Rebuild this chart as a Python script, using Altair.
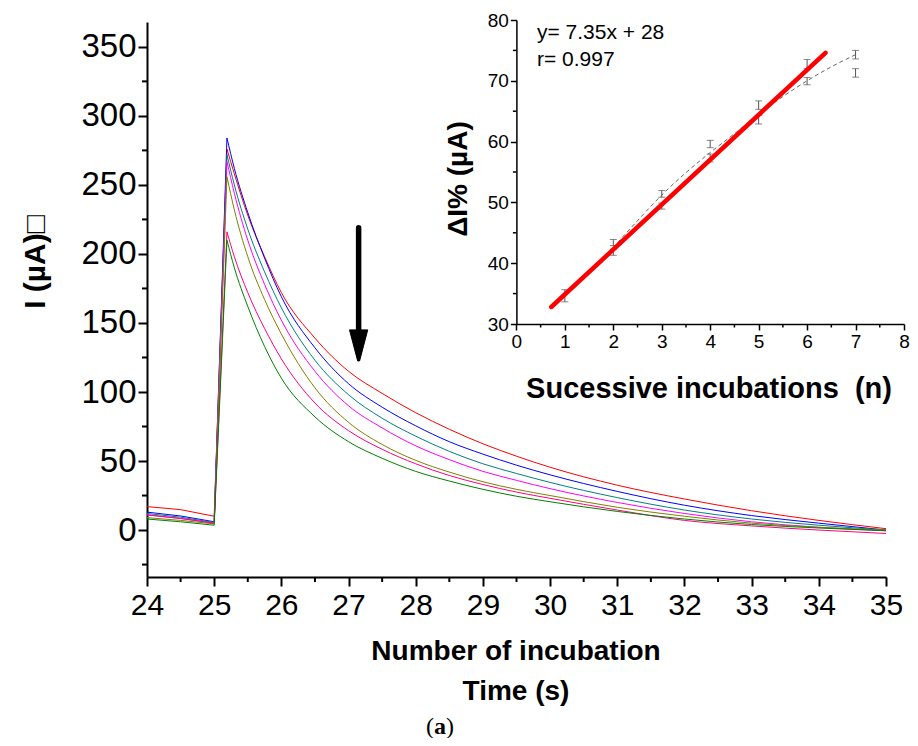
import altair as alt
import pandas as pd

# ---------------- main chart data ----------------
t_vals = [24, 24.5, 25, 25.19, 25.3, 25.5, 25.75, 26, 26.5, 27, 27.5, 28, 28.5, 29, 29.5, 30, 31, 32, 33, 34, 35]
red     = [17, 14.8, 10, 276, 258, 228, 198, 172, 139, 115, 99, 85, 73, 62.5, 53.5, 45.5, 32.5, 22.5, 14, 7, 1]
blue    = [13, 10.2, 6, 284, 262, 230, 197, 169, 132, 106, 89, 75.5, 64, 55, 47, 40, 28, 18, 10.5, 5, 0]
teal    = [12, 9.3, 5.5, 272, 250, 218, 187, 161, 123, 98, 81, 68, 57, 48, 41, 34.5, 23.5, 14.5, 8, 3.5, 0]
magenta = [11, 8.4, 5, 267, 244, 210, 178, 152, 115, 90, 74, 61, 51, 42.5, 36, 30, 20, 12, 6, 2, -0.5]
olive   = [9, 7, 4.5, 256, 232, 198, 167, 142, 103, 78, 62, 50.5, 42, 35, 29.5, 25, 16.5, 10, 5, 2, 0]
pink    = [11, 8.4, 5, 216, 198, 172, 146, 124, 92, 72, 58.5, 48, 39.5, 33, 27.5, 23, 14.5, 7, 3, 0, -2.5]
green   = [8, 6, 3.5, 210, 190, 162, 133, 110, 82, 64, 52, 42.5, 35.5, 29.5, 24.5, 20.5, 13.5, 8, 4, 1.5, -0.5]
series_names = ["red", "blue", "teal", "magenta", "olive", "pink", "green"]
series_colors = ["#ff0000", "#0000ff", "#008080", "#ff00ff", "#808000", "#ff0080", "#008000"]
series_vals = [red, blue, teal, magenta, olive, pink, green]
PEAK_INDEX = 3  # first point of the decay (the peak)

x_major = list(range(24, 36))
x_minor = [24.5 + i for i in range(11)]
y_major = [0, 50, 100, 150, 200, 250, 300, 350]
y_minor = [-25, 25, 75, 125, 175, 225, 275, 325]

# arrow annotation (data coords)
arrow_x = [27.15]
arrow_top = [219]
arrow_base = [142]
arrow_head = [133.4]

# ---------------- inset data ----------------
ins_x    = [1, 2, 2, 3, 3, 4, 4, 5, 5, 6, 6, 7, 7]
ins_mean = [34.65, 43.4, 41.8, 51.4, 49.4, 59.6, 57.3, 66.0, 63.6, 72.75, 69.95, 74.3, 71.3]
ins_err  = [1.0, 0.5, 0.5, 0.55, 0.5, 0.6, 0.65, 0.7, 0.7, 0.75, 0.6, 0.7, 0.7]
dash_x = [1.7, 2.0, 2.5, 3.0, 3.5, 4.0, 4.5, 5.0, 5.5, 6.0, 6.5, 7.0]
dash_y = [40.0, 42.6, 47.0, 51.2, 54.9, 58.2, 61.3, 64.5, 67.4, 70.0, 72.3, 74.3]
fit_x = [0.72, 6.38]
fit_y = [32.8, 74.6]
ins_x_major = list(range(0, 9))
ins_x_minor = [0.5 + i for i in range(8)]
ins_y_major = [30, 40, 50, 60, 70, 80]
ins_y_minor = [35, 45, 55, 65, 75]

# ---------------- build frames ----------------
rise_rows, decay_rows = [], []
for name, vals in zip(series_names, series_vals):
    for i, (t, v) in enumerate(zip(t_vals, vals)):
        if i <= PEAK_INDEX:
            rise_rows.append({"t": t, "I": v, "s": name})
        if i >= PEAK_INDEX:
            decay_rows.append({"t": t, "I": v, "s": name})
rise_df = pd.DataFrame(rise_rows)
decay_df = pd.DataFrame(decay_rows)

FONT = "Liberation Sans"
W, H = 739, 555

xm = alt.X("t:Q", scale=alt.Scale(domain=[24, 35], nice=False, zero=False),
           axis=alt.Axis(values=x_major, format="d", tickSize=9, grid=False,
                         domainWidth=2, tickWidth=2, domainColor="black", tickColor="black",
                         labelFont=FONT, labelFontSize=30, labelColor="black", labelPadding=4,
                         labelFlush=False, labelOverlap=False, title=None))
ym = alt.Y("I:Q", scale=alt.Scale(domain=[-34, 368], nice=False, zero=False),
           axis=alt.Axis(values=y_major, format="d", tickSize=9, grid=False,
                         domainWidth=2, tickWidth=2, domainColor="black", tickColor="black",
                         labelFont=FONT, labelFontSize=33, labelColor="black", labelPadding=2,
                         labelOverlap=False, title=None))
col = alt.Color("s:N", scale=alt.Scale(domain=series_names, range=series_colors), legend=None)

rise = alt.Chart(rise_df).mark_line(strokeWidth=1).encode(x=xm, y=ym, color=col, detail="s:N")
decay = alt.Chart(decay_df).mark_line(strokeWidth=1, interpolate="monotone").encode(
    x=alt.X("t:Q"), y=alt.Y("I:Q"), color=col, detail="s:N")

xminor_m = alt.Chart(pd.DataFrame({"t": x_minor})).mark_rule(color="black", strokeWidth=2).encode(
    x=alt.X("t:Q"), y=alt.value(H), y2=alt.value(H + 5))
yminor_m = alt.Chart(pd.DataFrame({"I": y_minor})).mark_rule(color="black", strokeWidth=2).encode(
    y=alt.Y("I:Q"), x=alt.value(0), x2=alt.value(-5))

arr_df = pd.DataFrame({"t": arrow_x, "top": arrow_top, "base": arrow_base, "head": arrow_head})
shaft = alt.Chart(arr_df).mark_rule(strokeWidth=5.5, color="black", strokeCap="round").encode(
    x=alt.X("t:Q"), y=alt.Y("top:Q"), y2="base:Q")
head = alt.Chart(arr_df).mark_point(
    shape="M-0.57,-1 L0.57,-1 L0.06,0.94 L-0.06,0.94 Z", size=1024, filled=True,
    fill="black", stroke="black", strokeWidth=1, opacity=1).encode(
    x=alt.X("t:Q"), y=alt.Y("head:Q"))

def label(text, x, y, size, weight="normal", angle=0, align="center", font=FONT, baseline="middle"):
    df = pd.DataFrame({"txt": [text]})
    kw = dict(fontSize=size, fontWeight=weight, align=align, baseline=baseline, font=font, color="black")
    if angle:
        kw["angle"] = angle
    return alt.Chart(df).mark_text(**kw).encode(text="txt:N", x=alt.value(x), y=alt.value(y))

SERIF = "Liberation Serif"
texts = [
    label("I (\u00b5A)\u25a1", -111, 240, 30, "bold", angle=270),
    label("Number of incubation", 369, 630, 28, "bold"),
    label("Time (s)", 369, 670, 28, "bold"),
    label("(", 279, 705, 24, align="left", font=SERIF),
    label("a", 287, 705, 24, "bold", align="left", font=SERIF),
    label(")", 299, 705, 24, align="left", font=SERIF),
    label("y= 7.35x + 28", 390, 11, 21, align="left"),
    label("r= 0.997", 390, 38, 21, align="left"),
    label("Sucessive incubations \u00a0(n)", 562, 367, 29, "bold"),
    label("\u0394I% (\u00b5A)", 312, 157, 28, "bold", angle=270),
]

main_layer = alt.layer(rise, decay, xminor_m, yminor_m, shaft, head, *texts)

# ---------------- inset ----------------
XI0, XI1 = 369.4, 757.0
YI0, YI1 = 302.0, -2.0
xi_scale = alt.Scale(domain=[0, 8], range=[XI0, XI1], nice=False, zero=False)
yi_scale = alt.Scale(domain=[30, 80], range=[YI0, YI1], nice=False, zero=False)
xi_axis = alt.Axis(orient="bottom", offset=YI0 - H, values=ins_x_major, format="d",
                   tickSize=6, grid=False,
                   domainWidth=1.5, tickWidth=1.5, domainColor="black", tickColor="black",
                   labelFont=FONT, labelFontSize=19, labelColor="black", labelPadding=2,
                   labelFlush=False, labelOverlap=False, title=None)
yi_axis = alt.Axis(orient="left", offset=-XI0, values=ins_y_major, format="d",
                   tickSize=6, grid=False,
                   domainWidth=1.5, tickWidth=1.5, domainColor="black", tickColor="black",
                   labelFont=FONT, labelFontSize=19, labelColor="black", labelPadding=2,
                   labelOverlap=False, title=None)

dash_df = pd.DataFrame({"n": dash_x, "v": dash_y})
fit_df = pd.DataFrame({"n": fit_x, "v": fit_y})
err_df = pd.DataFrame({"n": ins_x, "m": ins_mean, "e": ins_err})
err_df["lo"] = err_df["m"] - err_df["e"]
err_df["hi"] = err_df["m"] + err_df["e"]

dash = alt.Chart(dash_df).mark_line(color="#666666", strokeWidth=1, strokeDash=[4, 3],
                                    interpolate="monotone").encode(
    x=alt.X("n:Q", scale=xi_scale, axis=xi_axis), y=alt.Y("v:Q", scale=yi_scale, axis=yi_axis))
fit = alt.Chart(fit_df).mark_line(color="#ff0000", strokeWidth=4.5, strokeCap="round").encode(
    x=alt.X("n:Q"), y=alt.Y("v:Q"))
bars = alt.Chart(err_df).mark_rule(color="#555555", strokeWidth=1).encode(
    x=alt.X("n:Q"), y=alt.Y("lo:Q"), y2="hi:Q")
cap_lo = alt.Chart(err_df).mark_tick(color="#555555", orient="horizontal", size=7, thickness=1).encode(
    x=alt.X("n:Q"), y=alt.Y("lo:Q"))
cap_hi = alt.Chart(err_df).mark_tick(color="#555555", orient="horizontal", size=7, thickness=1).encode(
    x=alt.X("n:Q"), y=alt.Y("hi:Q"))
xminor_i = alt.Chart(pd.DataFrame({"n": ins_x_minor})).mark_rule(color="black", strokeWidth=1.5).encode(
    x=alt.X("n:Q"), y=alt.value(YI0), y2=alt.value(YI0 + 3.5))
yminor_i = alt.Chart(pd.DataFrame({"v": ins_y_minor})).mark_rule(color="black", strokeWidth=1.5).encode(
    y=alt.Y("v:Q"), x=alt.value(XI0 - 3.5), x2=alt.value(XI0))

inset_layer = alt.layer(dash, bars, cap_lo, cap_hi, fit, xminor_i, yminor_i)

chart = alt.layer(main_layer, inset_layer).resolve_scale(
    x="independent", y="independent"
).properties(
    width=W, height=H,
    autosize=alt.AutoSizeParams(type="none"),
    padding={"left": 139, "top": 14, "right": 24, "bottom": 161},
    background="white",
).configure_view(strokeWidth=0)

chart.save("out.html", embed_options={"renderer": "svg", "actions": False})
